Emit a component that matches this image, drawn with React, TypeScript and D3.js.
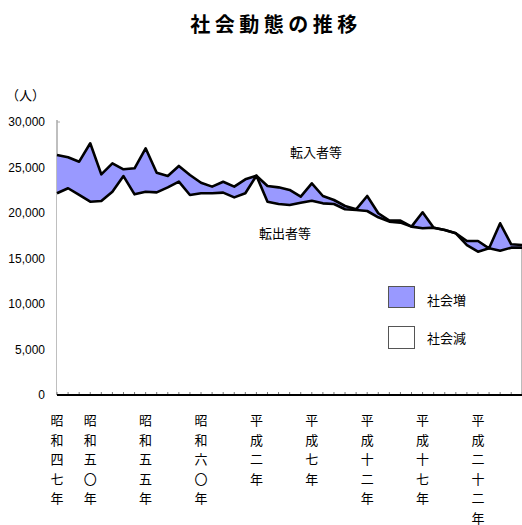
import * as d3 from "d3";

// 昭和47年(1972) 〜 平成26年(2014)
const years = d3.range(1972, 2015);

// 転入者等
const inflow = [
  26380, 26120, 25640, 27660, 24250, 25460, 24800, 24910, 27110, 24430, 24070,
  25170, 24180, 23330, 22900, 23440, 22900, 23700, 24100, 22970, 22820, 22530,
  21800, 23260, 21870, 21430, 20770, 20400, 21870, 19970, 19160, 19160, 18500,
  20080, 18390, 18130, 17770, 16920, 16920, 16120, 18870, 16560, 16480,
];

// 転出者等
const outflow = [
  22170, 22720, 21980, 21240, 21320, 22340, 24060, 22050, 22340, 22270, 22820,
  23440, 21980, 22170, 22170, 22240, 21720, 22170, 24100, 21240, 20990, 20880,
  21130, 21350, 21060, 20990, 20410, 20330, 20220, 19530, 19050, 18940, 18500,
  18320, 18390, 18130, 17770, 16480, 15750, 16120, 15860, 16190, 16190,
];

const yTicks = [0, 5000, 10000, 15000, 20000, 25000, 30000];

const xLabels = [
  { year: 1972, text: "昭和四七年" },
  { year: 1975, text: "昭和五〇年" },
  { year: 1980, text: "昭和五五年" },
  { year: 1985, text: "昭和六〇年" },
  { year: 1990, text: "平成二年" },
  { year: 1995, text: "平成七年" },
  { year: 2000, text: "平成十二年" },
  { year: 2005, text: "平成十七年" },
  { year: 2010, text: "平成二十二年" },
];

const FILL = "#9999ff";
const JP = "'Noto Sans CJK JP', sans-serif";
const NUM = "'Liberation Sans', Arial, sans-serif";

export default function App() {
  const width = 522;
  const height = 525;
  const left = 57;
  const right = 522.3;
  const top = 122;
  const bottom = 395;

  const x = d3.scalePoint<number>().domain(years).range([left, right]);
  const y = d3.scaleLinear().domain([0, 30000]).range([bottom, top]);

  const area = (vals: number[]) =>
    d3
      .area<number>()
      .x((_d, i) => x(years[i]) as number)
      .y0(bottom)
      .y1((d) => y(d))(vals) || "";

  const line = (vals: number[]) =>
    d3
      .line<number>()
      .x((_d, i) => x(years[i]) as number)
      .y((d) => y(d))(vals) || "";

  const lastOut = outflow[outflow.length - 1];

  return (
    <svg
      width={width}
      height={height}
      style={{ position: "absolute", left: 0, top: 0, background: "#fff" }}
    >
      <text
        x={276}
        y={32}
        textAnchor="middle"
        fontFamily={JP}
        fontSize={20}
        fontWeight={700}
        letterSpacing={4.5}
      >
        社会動態の推移
      </text>

      <text x={6} y={100} fontFamily={JP} fontSize={13}>
        （人）
      </text>

      {/* y axis */}
      <line x1={left} x2={left} y1={top - 2} y2={bottom} stroke="#aaa" strokeWidth={1.5} />
      {yTicks.map((t) => (
        <g key={t}>
          <line x1={left} x2={left + 3} y1={y(t)} y2={y(t)} stroke="#aaa" />
          <text
            x={45}
            y={y(t)}
            dy="0.35em"
            textAnchor="end"
            fontFamily={NUM}
            fontSize={12}
          >
            {d3.format(",")(t)}
          </text>
        </g>
      ))}

      {/* 社会増 / 社会減 */}
      <path d={area(inflow)} fill={FILL} />
      <path d={area(outflow)} fill="#fff" />

      {/* right border, only visible under the lines */}
      <line
        x1={521.5}
        x2={521.5}
        y1={y(lastOut)}
        y2={bottom}
        stroke="#bbb"
        strokeWidth={1}
      />

      <path
        d={line(inflow)}
        fill="none"
        stroke="#000"
        strokeWidth={2.6}
        strokeLinejoin="round"
      />
      <path
        d={line(outflow)}
        fill="none"
        stroke="#000"
        strokeWidth={2.6}
        strokeLinejoin="round"
      />

      {/* x axis */}
      {years.map((yr) => (
        <line
          key={yr}
          x1={x(yr)}
          x2={x(yr)}
          y1={bottom}
          y2={bottom - 3}
          stroke="#555"
          strokeWidth={0.8}
        />
      ))}
      <line x1={left} x2={width} y1={bottom} y2={bottom} stroke="#000" strokeWidth={1.8} />

      {xLabels.map((l) => (
        <text
          key={l.year}
          x={x(l.year)}
          y={425}
          textAnchor="middle"
          fontFamily={JP}
          fontSize={13}
        >
          {Array.from(l.text).map((c, i) => (
            <tspan key={i} x={x(l.year)} dy={i === 0 ? 0 : 19.5}>
              {c}
            </tspan>
          ))}
        </text>
      ))}

      <text x={290} y={157} fontFamily={JP} fontSize={13}>
        転入者等
      </text>
      <text x={259} y={238} fontFamily={JP} fontSize={13}>
        転出者等
      </text>

      {/* legend */}
      <rect x={388.5} y={286.5} width={26} height={21} fill={FILL} stroke="#555" />
      <text x={427} y={304.5} fontFamily={JP} fontSize={13}>
        社会増
      </text>
      <rect x={388.5} y={326.5} width={26} height={22} fill="#fff" stroke="#555" />
      <text x={427} y={343} fontFamily={JP} fontSize={13}>
        社会減
      </text>
    </svg>
  );
}
